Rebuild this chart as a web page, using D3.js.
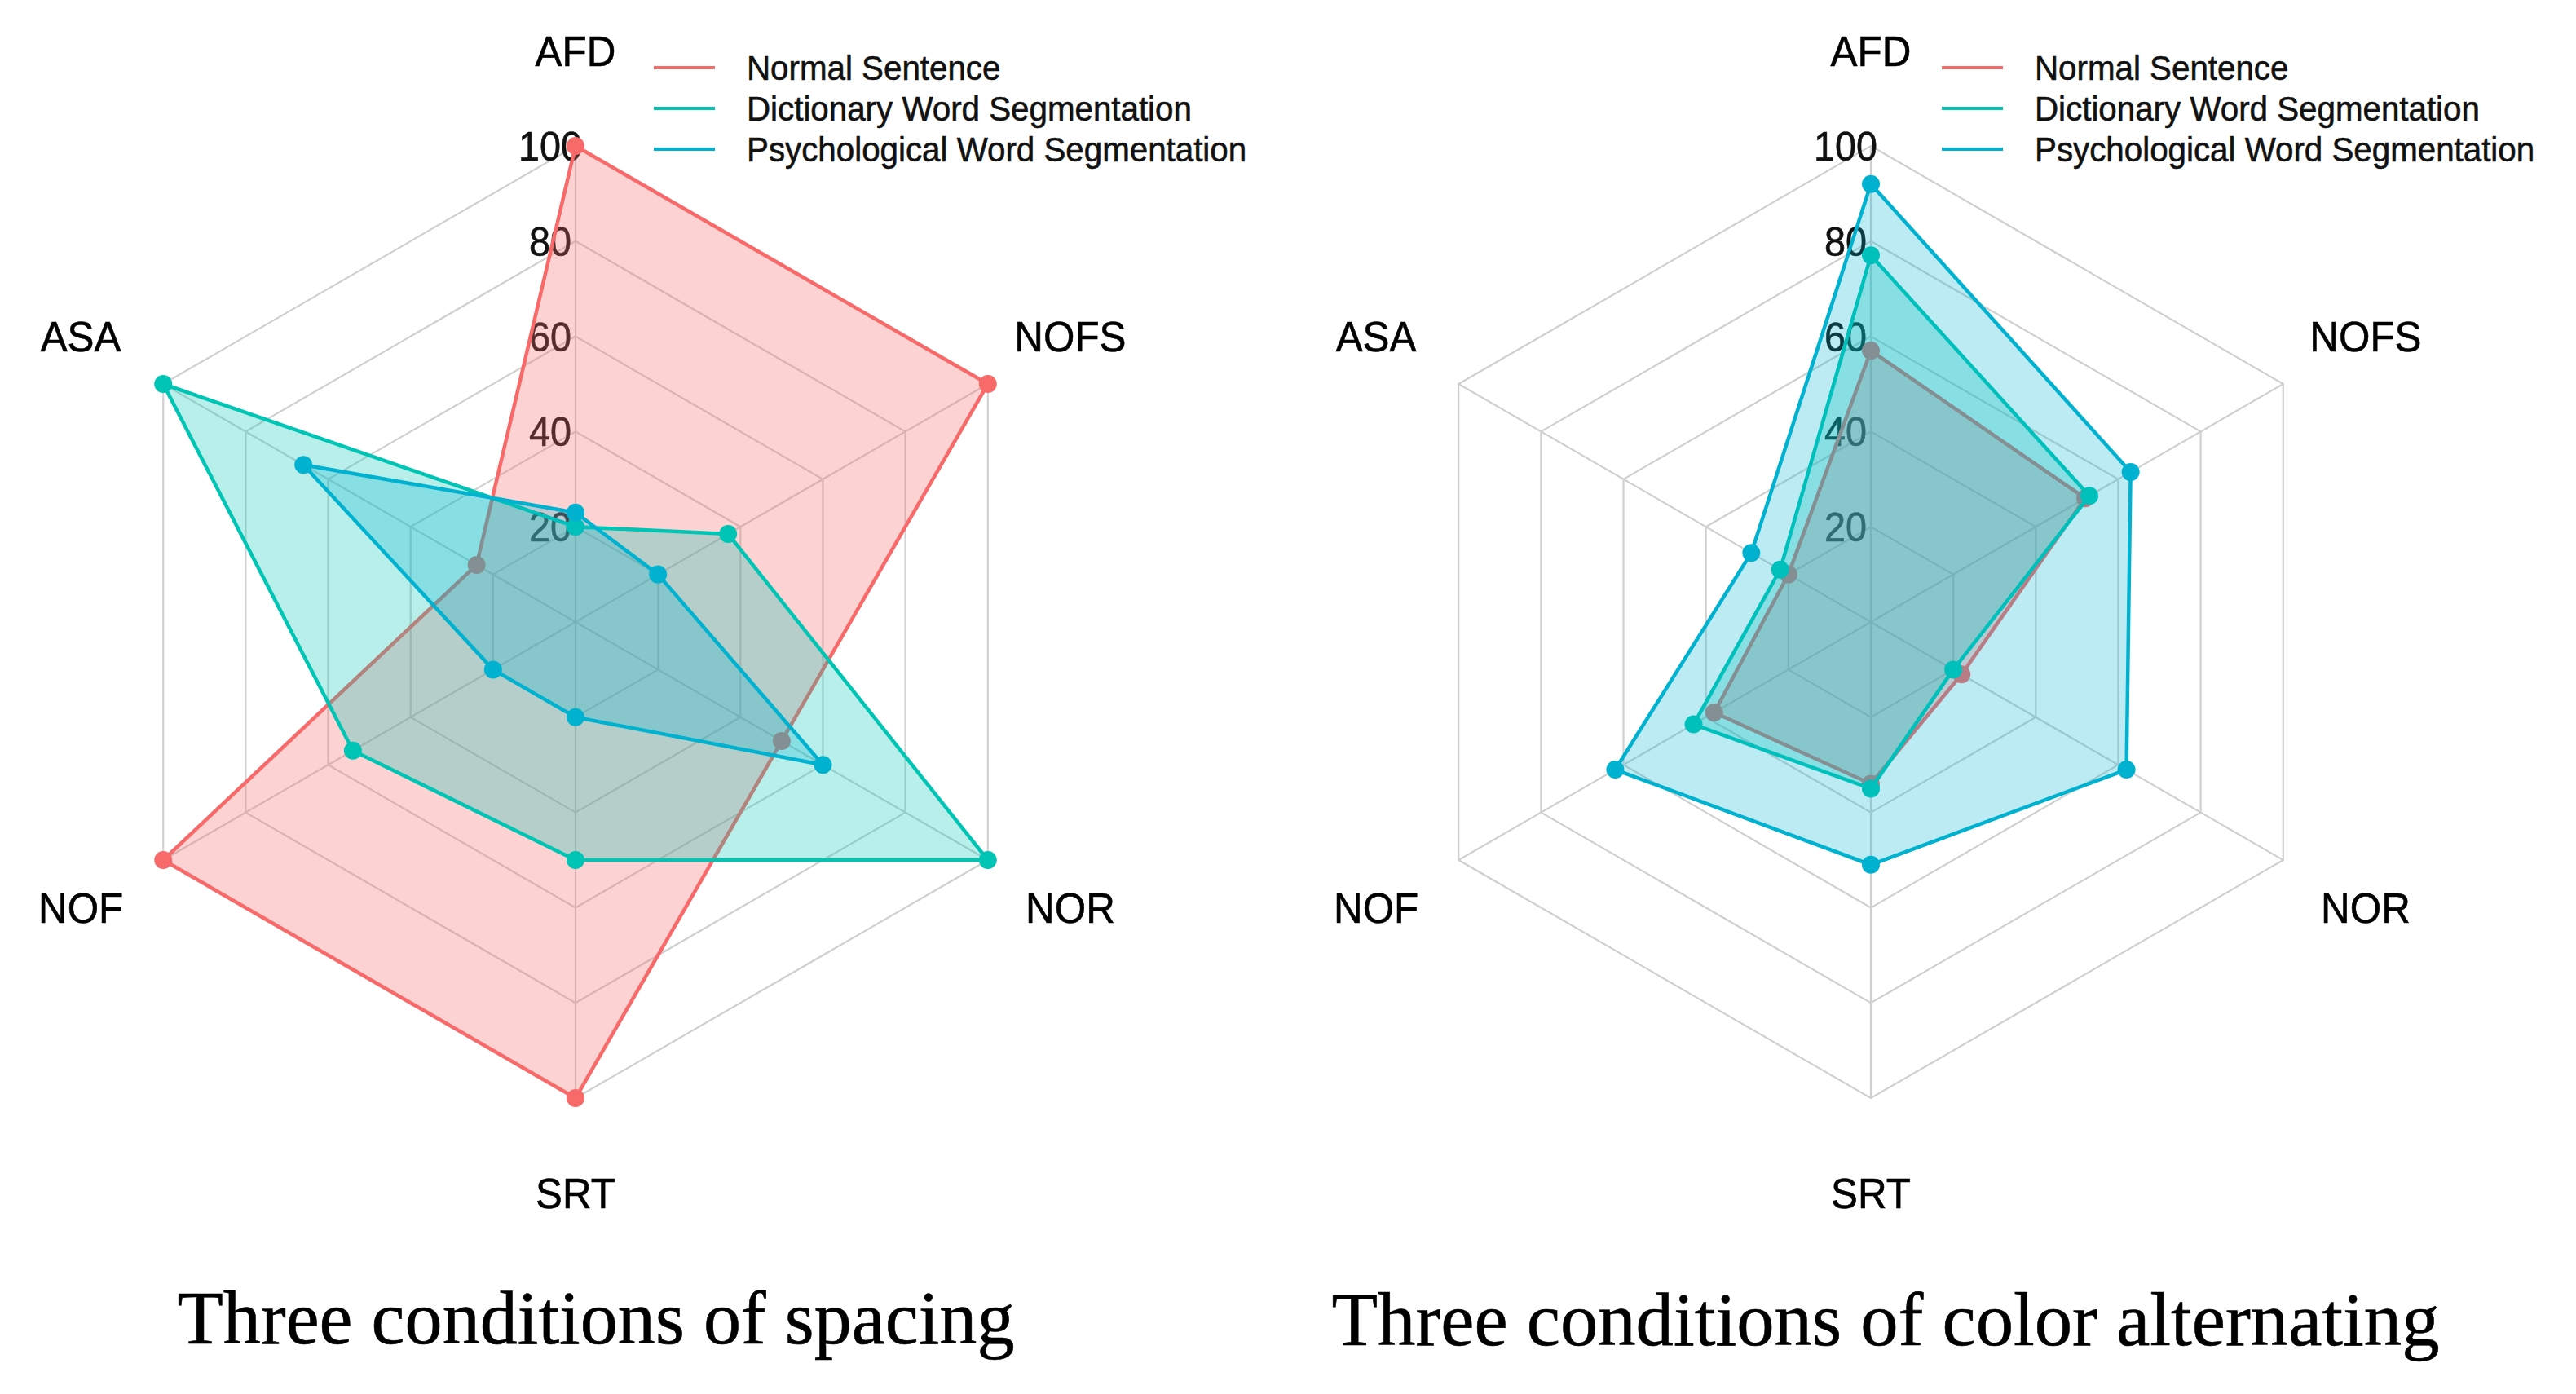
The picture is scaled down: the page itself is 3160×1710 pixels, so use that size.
<!DOCTYPE html>
<html>
<head>
<meta charset="utf-8">
<script src="https://cdn.jsdelivr.net/npm/d3@7"></script>
<style>
  html, body { margin: 0; padding: 0; background: #ffffff; }
  svg { display: block; }
</style>
</head>
<body>
<script>
// ---------------- DATA ----------------
const axes = ["AFD", "NOFS", "NOR", "SRT", "NOF", "ASA"];
const seriesNames = ["Normal Sentence", "Dictionary Word Segmentation", "Psychological Word Segmentation"];
const tickValues = [20, 40, 60, 80, 100];
const tickLabels = ["20", "40", "60", "80", "100"];

// Three conditions of spacing
const spacingNormal = [100, 100, 50, 100, 100, 24];
const spacingDictionary = [20, 37, 100, 50, 54, 100];
const spacingPsychological = [23, 20, 60, 20, 20, 66];

// Three conditions of color alternating
const colorNormal = [57, 52, 22, 34, 38, 20];
const colorDictionary = [77, 53, 20, 35, 43, 22];
const colorPsychological = [92, 63, 62, 51, 62, 29];

const chartTitles = ["Three conditions of spacing", "Three conditions of color alternating"];

// ---------------- STYLE ----------------
const W = 3160, H = 1710;
const colors = ["#F86A6A", "#00C5B5", "#00B2CF"];
const fillOpacity = [0.30, 0.28, 0.26];
const R = 584;
const panels = [
  { cx: 706, cy: 763, data: [spacingNormal, spacingDictionary, spacingPsychological],
    legendX: 802, titleX: 731, titleY: 1648, titleLen: 1027 },
  { cx: 2295, cy: 763, data: [colorNormal, colorDictionary, colorPsychological],
    legendX: 2382, titleX: 2313, titleY: 1650, titleLen: 1359 }
];
const sansFont = "'Liberation Sans', Arial, sans-serif";
const serifFont = "'Liberation Serif', 'Times New Roman', serif";
const SX = 0.95; // slight horizontal condensing seen in the reference text

const svg = d3.select("body").append("svg")
  .attr("width", W).attr("height", H)
  .attr("viewBox", `0 0 ${W} ${H}`);
svg.append("rect").attr("width", W).attr("height", H).attr("fill", "#ffffff");

const rScale = d3.scaleLinear().domain([0, 100]).range([0, R]);
const angle = d3.scalePoint().domain(axes).range([0, 2 * Math.PI * (axes.length - 1) / axes.length]);

function px(a, r) { return r * Math.sin(a); }
function py(a, r) { return -r * Math.cos(a); }

function addText(g, x, y, str, size, anchor, family, fill, sx) {
  return g.append("text")
    .attr("transform", `translate(${x},${y}) scale(${sx},1)`)
    .attr("text-anchor", anchor)
    .attr("font-family", family)
    .attr("font-size", size)
    .attr("fill", fill)
    .attr("stroke", fill)
    .attr("stroke-width", 0.6)
    .text(str);
}

panels.forEach((p) => {
  const g = svg.append("g").attr("transform", `translate(${p.cx},${p.cy})`);

  // grid rings
  const ringLine = d3.lineRadial()
    .angle(d => angle(d.axis))
    .radius(d => rScale(d.v))
    .curve(d3.curveLinearClosed);
  tickValues.forEach(t => {
    g.append("path")
      .attr("d", ringLine(axes.map(a => ({ axis: a, v: t }))))
      .attr("fill", "none")
      .attr("stroke", "#D0D0D0")
      .attr("stroke-width", 2.2);
  });
  // spokes
  axes.forEach(a => {
    g.append("line")
      .attr("x1", 0).attr("y1", 0)
      .attr("x2", px(angle(a), rScale(100)))
      .attr("y2", py(angle(a), rScale(100)))
      .attr("stroke", "#D0D0D0")
      .attr("stroke-width", 2.2);
  });

  // tick labels (under the polygons)
  tickValues.forEach((t, i) => {
    addText(g, -31, -rScale(t) + 18, tickLabels[i], 50, "middle", sansFont, "#111111", 0.935);
  });

  // axis labels
  axes.forEach(a => {
    const r = rScale(120);
    addText(g, px(angle(a), r), py(angle(a), r) + 18.6, a, 52, "middle", sansFont, "#000000", SX);
  });

  // series
  const polyLine = d3.lineRadial()
    .angle((d, i) => angle(axes[i]))
    .radius(d => rScale(d))
    .curve(d3.curveLinearClosed);
  p.data.forEach((vals, si) => {
    const sg = g.append("g");
    sg.append("path")
      .attr("d", polyLine(vals))
      .attr("fill", colors[si])
      .attr("fill-opacity", fillOpacity[si])
      .attr("stroke", colors[si])
      .attr("stroke-width", 4.5)
      .attr("stroke-linejoin", "round");
    sg.selectAll("circle")
      .data(vals)
      .enter().append("circle")
      .attr("cx", (d, i) => px(angle(axes[i]), rScale(d)))
      .attr("cy", (d, i) => py(angle(axes[i]), rScale(d)))
      .attr("r", 11)
      .attr("fill", colors[si]);
  });

  // legend
  const lg = svg.append("g");
  seriesNames.forEach((name, i) => {
    const y = 83 + i * 50;
    lg.append("line")
      .attr("x1", p.legendX).attr("x2", p.legendX + 75)
      .attr("y1", y).attr("y2", y)
      .attr("stroke", colors[i])
      .attr("stroke-width", 4);
    addText(lg, p.legendX + 114, y + 15, name, 42, "start", sansFont, "#111111", 0.96);
  });
});

// titles
panels.forEach((p, i) => {
  svg.append("text")
    .attr("x", p.titleX)
    .attr("y", p.titleY)
    .attr("text-anchor", "middle")
    .attr("font-family", serifFont)
    .attr("font-size", 93)
    .attr("fill", "#000000")
    .attr("stroke", "#000000")
    .attr("stroke-width", 0.6)
    .attr("textLength", p.titleLen)
    .attr("lengthAdjust", "spacingAndGlyphs")
    .text(chartTitles[i]);
});
</script>
</body>
</html>
